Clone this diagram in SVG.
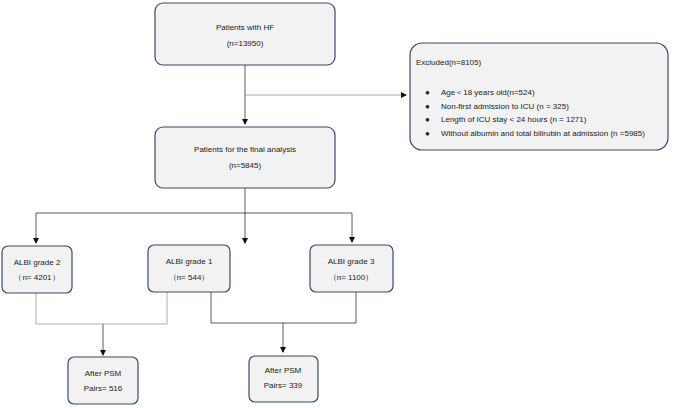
<svg xmlns="http://www.w3.org/2000/svg" width="685" height="408" viewBox="0 0 685 408">
<style>
.b{fill:#f2f2f2;stroke:#3a4a6a;stroke-width:1.2}
.t{font-family:"Liberation Sans",Arial,sans-serif;font-size:8px;fill:#222;text-anchor:middle}
.l{text-anchor:start}
.c{fill:none;stroke:#333;stroke-width:0.8}
.g{fill:none;stroke:#999;stroke-width:0.8}
</style>
<defs><marker id="a" markerWidth="6" markerHeight="6" refX="5" refY="3" orient="auto" markerUnits="userSpaceOnUse"><path d="M0,0L6,3L0,6z" fill="#111"/></marker></defs>
<rect width="685" height="408" fill="#fff"/>
<g id="connectors">
<path class="c" d="M245,65V124" marker-end="url(#a)"/>
<path class="g" d="M245,95H406" marker-end="url(#a)"/>
<path class="c" d="M245,188V213"/>
<path class="c" d="M245,213H36V243" marker-end="url(#a)"/>
<path class="c" d="M245,213H352V242" marker-end="url(#a)"/>
<path class="c" d="M245,213V243" marker-end="url(#a)"/>
<path class="g" d="M36,293V324H167V292"/>
<path class="c" d="M103,324V355" marker-end="url(#a)"/>
<path class="c" d="M211,292V323H356V292"/>
<path class="c" d="M283,323V352" marker-end="url(#a)"/>
</g>
<g id="n1"><rect class="b" x="155" y="3" width="180" height="62" rx="8"/><text class="t" x="245" y="30">Patients with HF</text><text class="t" x="245" y="46">(n=13950)</text></g>
<g id="n2"><rect class="b" x="155" y="127" width="180" height="61" rx="8"/><text class="t" x="245" y="152">Patients for the final analysis</text><text class="t" x="245" y="168">(n=5845)</text></g>
<g id="ex"><rect class="b" x="410" y="43" width="258" height="107" rx="12"/>
<text class="t l" x="416" y="65">Excluded(n=8105)</text>
<text class="t l" x="425" y="95">●</text><text class="t l" x="441" y="95">Age＜18 years old(n=524)</text>
<text class="t l" x="425" y="109">●</text><text class="t l" x="441" y="109">Non-first admission to ICU (n = 325)</text>
<text class="t l" x="425" y="122">●</text><text class="t l" x="441" y="122">Length of ICU stay &lt; 24 hours (n = 1271)</text>
<text class="t l" x="425" y="136">●</text><text class="t l" x="441" y="136">Without albumin and total bilirubin at admission (n =5985)</text></g>
<g id="a2"><rect class="b" x="2" y="246" width="70" height="47" rx="6"/><text class="t" x="37" y="265">ALBI grade 2</text><text class="t" x="37" y="280">（n= 4201）</text></g>
<g id="a1"><rect class="b" x="148" y="245" width="82" height="47" rx="6"/><text class="t" x="189" y="264">ALBI grade 1</text><text class="t" x="189" y="280">（n= 544）</text></g>
<g id="a3"><rect class="b" x="310" y="245" width="83" height="47" rx="6"/><text class="t" x="351" y="264">ALBI grade 3</text><text class="t" x="351" y="280">（n= 1100）</text></g>
<g id="p1"><rect class="b" x="68" y="357" width="70" height="47" rx="6"/><text class="t" x="103" y="376">After PSM</text><text class="t" x="103" y="391">Pairs= 516</text></g>
<g id="p2"><rect class="b" x="249" y="356" width="69" height="46" rx="6"/><text class="t" x="283" y="373">After PSM</text><text class="t" x="283" y="388">Pairs= 339</text></g>
</svg>
